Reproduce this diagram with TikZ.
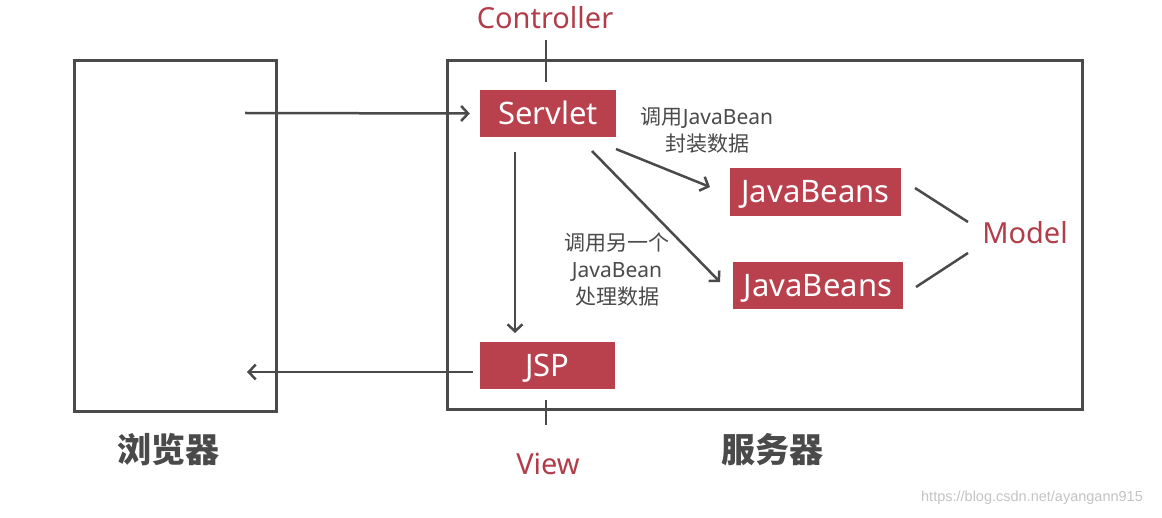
\documentclass[tikz,border=0pt]{standalone}
\usepackage{fontspec}
\setmainfont{Noto Sans}
\newfontfamily\cjk{Noto Sans CJK SC}
\newfontfamily\wmfont{Liberation Sans}
\usetikzlibrary{arrows.meta}
\definecolor{boxred}{HTML}{B9414D}
\definecolor{labred}{HTML}{B23D4A}
\definecolor{linegray}{HTML}{4A4A4A}
\definecolor{wmgray}{HTML}{C4C4C4}
\begin{document}
\begin{tikzpicture}[x=1pt,y=-1pt,
  frame/.style={draw=linegray, line width=3pt, inner sep=0pt},
  redbox/.style={fill=boxred, text=white, inner sep=0pt, text height=22pt, text depth=0pt, font=\fontsize{31}{33}\selectfont},
  redlabel/.style={text=labred, inner sep=0pt, text height=20.7pt, text depth=0pt, font=\fontsize{29}{31}\selectfont},
  note/.style={text=linegray, inner sep=0pt, align=center, font=\fontsize{21}{27}\selectfont},
  biglabel/.style={text=linegray, inner sep=0pt, font=\cjk\fontsize{34}{36}\selectfont\bfseries},
  conn/.style={draw=linegray, line width=2.5pt},
  arr/.style={conn, -{Straight Barb[length=7pt,width=15pt,line width=2.5pt]}}
]
\useasboundingbox (0,0) rectangle (1162,518);
\fill[white] (0,0) rectangle (1162,518);

% frames
\node[frame, minimum width=202pt, minimum height=351pt] (browser) at (175,236.5) {};
\node[frame, minimum width=635pt, minimum height=349pt] (server) at (764.5,235.5) {};

% red boxes
\node[redbox, minimum width=136pt, minimum height=47pt] (servlet) at (548,113.5) {Servlet};
\node[redbox, minimum width=171pt, minimum height=48pt] (jb1) at (815.5,192) {JavaBeans};
\node[redbox, minimum width=170pt, minimum height=47pt] (jb2) at (818,285.5) {JavaBeans};
\node[redbox, minimum width=135pt, minimum height=47pt] (jsp) at (547.5,365.5) {JSP};

% red labels
\node[redlabel] (controller) at (545,18.5) {Controller};
\node[redlabel] (model) at (1025,233) {Model};
\node[redlabel] (view) at (548,464) {View};

% notes
\node[note] (note1) at (707,130) {{\cjk 调用}JavaBean\\{\cjk 封装数据}};
\node[note] (note2) at (617,270) {{\cjk 调用另一个}\\JavaBean\\{\cjk 处理数据}};

% big labels
\node[biglabel] (blabel) at (168,450) {浏览器};
\node[biglabel] (slabel) at (772,450) {服务器};

% watermark
\node[text=wmgray, inner sep=0pt, font=\wmfont\fontsize{14.5}{16}\selectfont] (wm) at (1032,498) {https://blog.csdn.net/ayangann915};

% coordinates
\coordinate (ctrlA) at (546,40);
\coordinate (ctrlB) at (546,82);
\coordinate (bin) at (245,113);
\coordinate (bout) at (247,372);
\coordinate (s1) at (616,149);
\coordinate (t1) at (710,187);
\coordinate (s2) at (592,151);
\coordinate (t2) at (720,282);
\coordinate (s3) at (515,152);
\coordinate (t3) at (515,333);
\coordinate (j0) at (473,372);
\coordinate (m1a) at (915,188);
\coordinate (m1b) at (968,222);
\coordinate (m2a) at (916,287);
\coordinate (m2b) at (968,253);
\coordinate (vA) at (546,400);
\coordinate (vB) at (546,425);

% connectors
\draw[conn] (ctrlA) -- (ctrlB);
\draw[arr] (bin) -- ([xshift=-10pt]servlet.west);
\draw[arr] (s1) -- (t1);
\draw[arr] (s2) -- (t2);
\draw[arr] (s3) -- (t3);
\draw[arr] (j0) -- (bout);
\draw[conn] (m1a) -- (m1b);
\draw[conn] (m2a) -- (m2b);
\draw[conn] (vA) -- (vB);
\end{tikzpicture}
\end{document}
